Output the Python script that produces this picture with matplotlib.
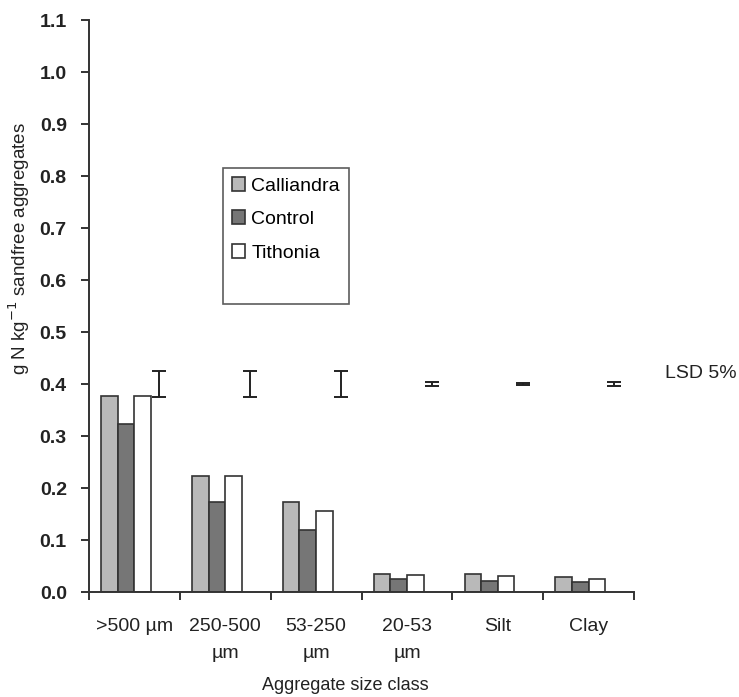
import numpy as np
import matplotlib
matplotlib.use("Agg")
import matplotlib.pyplot as plt
from matplotlib.patches import Patch

plt.rcParams['font.family'] = ['Liberation Sans', 'DejaVu Sans']

categories = [">500 µm", "250-500\nµm", "53-250\nµm", "20-53\nµm", "Silt", "Clay"]
calliandra = [0.377, 0.223, 0.173, 0.034, 0.035, 0.028]
control = [0.324, 0.174, 0.119, 0.026, 0.022, 0.019]
tithonia = [0.377, 0.223, 0.156, 0.032, 0.031, 0.025]
lsd_center = 0.40
lsd_half = [0.025, 0.025, 0.025, 0.004, 0.0015, 0.004]

fig = plt.figure(figsize=(7.39, 6.97), dpi=100)
ax = fig.add_axes([0.1204, 0.1506, 0.858 - 0.1204, 0.9713 - 0.1506])

x = np.arange(len(categories))
w = 0.183
edge = "#333333"

ax.bar(x - 1.5 * w, calliandra, w, color="#b9b9b9", edgecolor=edge, linewidth=1.2, label="Calliandra")
ax.bar(x - 0.5 * w, control, w, color="#767676", edgecolor=edge, linewidth=1.2, label="Control")
ax.bar(x + 0.5 * w, tithonia, w, color="white", edgecolor=edge, linewidth=1.2, label="Tithonia")

# LSD bars sit in the 4th slot of each group
ax.errorbar(x + 1.5 * w, [lsd_center] * len(x), yerr=lsd_half, fmt="none",
            ecolor="#222222", elinewidth=1.4, capsize=5, capthick=1.4)
ax.text(5.84, lsd_center + 0.02, "LSD 5%", fontsize=14, ha="left", va="center",
        color="#222222", clip_on=False)

ax.set_xlim(-0.5, 5.5)
ax.set_ylim(0, 1.1)
ax.set_yticks(np.arange(0, 1.11, 0.1))
ax.set_yticklabels([f"{v:.1f}" for v in np.arange(0, 1.11, 0.1)], fontsize=14, fontweight="bold",
                   color="#222222")

ax.set_xticks(np.arange(-0.5, 5.6, 1.0))
ax.set_xticklabels([])
ax.set_xticks(x, minor=True)
ax.set_xticklabels(categories, minor=True, fontsize=14, color="#222222", linespacing=1.75)
ax.tick_params(axis="x", which="minor", length=0, pad=19)
ax.tick_params(axis="both", which="major", direction="out", length=6, width=1.4, color="#333333")
ax.tick_params(axis="y", pad=10)

for s in ["top", "right"]:
    ax.spines[s].set_visible(False)
for s in ["left", "bottom"]:
    ax.spines[s].set_linewidth(1.4)
    ax.spines[s].set_color("#333333")

ax.set_ylabel("g N kg$^{-1}$ sandfree aggregates", fontsize=13.5, color="#222222")
ax.yaxis.set_label_coords(-0.105, 0.6)
ax.set_xlabel("Aggregate size class", fontsize=13, color="#222222")
ax.xaxis.set_label_coords(0.47, -0.148)

handles, labels = ax.get_legend_handles_labels()
handles.append(Patch(facecolor="none", edgecolor="none"))
labels.append(" ")
leg = ax.legend(handles, labels, loc="upper left", bbox_to_anchor=(0.246, 0.741),
                fontsize=14, frameon=True, fancybox=False, edgecolor="#333333",
                handlelength=0.7, handleheight=0.7, handletextpad=0.3,
                labelspacing=0.82, borderpad=0.45, borderaxespad=0)
leg.get_frame().set_linewidth(1.2)

fig.savefig("out.png", dpi=100)
